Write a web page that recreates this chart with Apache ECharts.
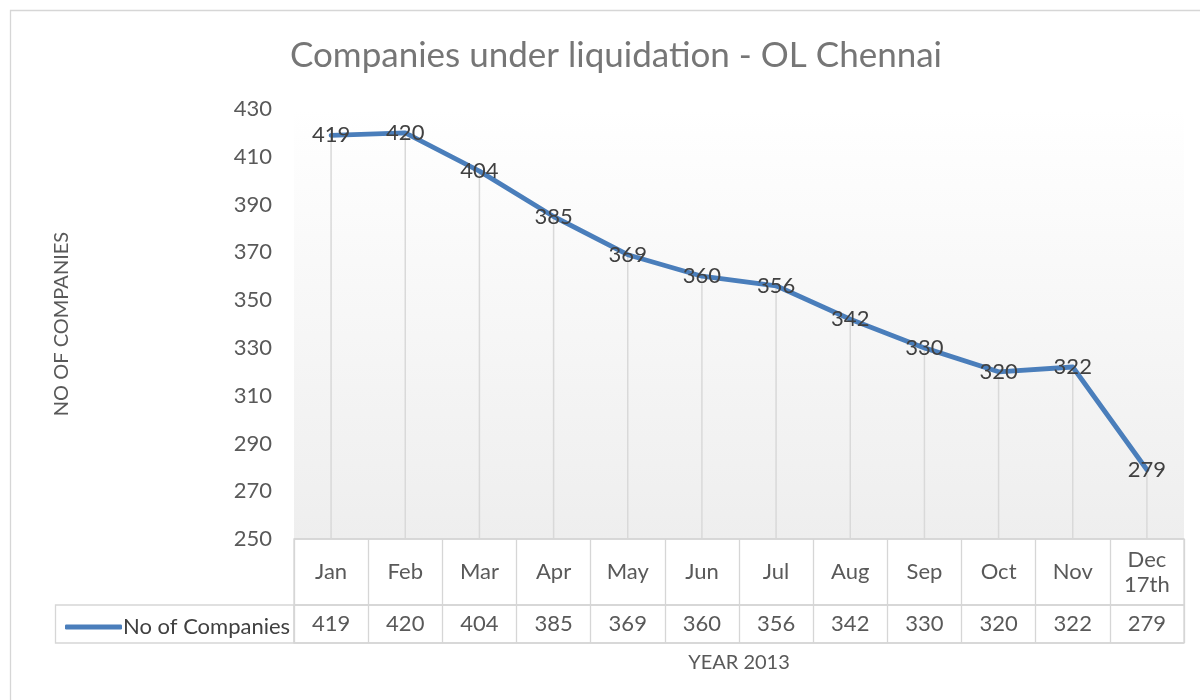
<!DOCTYPE html>
<html>
<head>
<meta charset="utf-8">
<script src="https://cdn.jsdelivr.net/npm/echarts@6/dist/echarts.min.js"></script>
<style>html,body{margin:0;padding:0;background:#fff}#c{width:1200px;height:700px}</style>
</head>
<body>
<div id="c"></div>
<script>
var categories = ['Jan','Feb','Mar','Apr','May','Jun','Jul','Aug','Sep','Oct','Nov','Dec\n17th'];
var companies = [419,420,404,385,369,360,356,342,330,320,322,279];
var seriesName = 'No of Companies';
var yTicks = {min:250, max:430, interval:20};

var FONT = 'Lato';
var BORDER = '#d6d6d6';
var chart = echarts.init(document.getElementById('c'));
var L = 294, W = 890, T0 = 109, B0 = 539, R1 = 605, R2 = 643;
chart.setOption({
  animation:false,
  textStyle:{fontFamily:FONT},
  title:{text:'Companies under liquidation - OL Chennai', left:611, textAlign:'center', top:33,
    textStyle:{fontFamily:FONT, fontSize:35, fontWeight:'normal', color:'#767676'}},
  legend:{data:[seriesName], left:60, top:611, icon:'roundRect', itemWidth:57, itemHeight:5, itemGap:0,
    textStyle:{fontFamily:FONT, fontSize:22, color:'#404040', padding:[0,0,0,-4]}},
  graphic:[
    {type:'rect', shape:{x:10.5,y:10.5,width:1200,height:700}, style:{fill:'none', stroke:BORDER, lineWidth:1.3}, silent:true, z:10},
    {type:'rect', shape:{x:55.5,y:R1,width:L-55.5,height:R2-R1}, style:{fill:'none', stroke:BORDER, lineWidth:1.3}, silent:true, z:10},
    {type:'line', shape:{x1:L,y1:B0,x2:L+W,y2:B0}, style:{stroke:BORDER, lineWidth:1.3}, silent:true, z:10},
    {type:'line', shape:{x1:L,y1:R1,x2:L+W,y2:R1}, style:{stroke:BORDER, lineWidth:1.3}, silent:true, z:10},
    {type:'line', shape:{x1:L,y1:R2,x2:L+W,y2:R2}, style:{stroke:BORDER, lineWidth:1.3}, silent:true, z:10}
  ],
  grid:[
    {left:L, width:W, top:T0, height:B0-T0, show:true, borderWidth:0, outerBoundsMode:'none',
      backgroundColor:new echarts.graphic.LinearGradient(0,0,0,1,[{offset:0,color:'#ffffff'},{offset:1,color:'#eeeeee'}])},
    {left:L, width:W, top:B0, height:R1-B0, show:true, borderColor:BORDER, borderWidth:1.3, backgroundColor:'transparent', outerBoundsMode:'none'},
    {left:L, width:W, top:R1, height:R2-R1, show:true, borderColor:BORDER, borderWidth:1.3, backgroundColor:'transparent', outerBoundsMode:'none'}
  ],
  xAxis:[
    {type:'category', gridIndex:0, data:categories, boundaryGap:true,
      axisLine:{show:false}, axisTick:{show:false}, splitLine:{show:false},
      axisLabel:{margin:33, verticalAlign:'middle', lineHeight:25, fontSize:22, color:'#595959', fontFamily:FONT, interval:0}},
    {type:'category', gridIndex:0, position:'bottom', offset:0, data:companies.map(String), boundaryGap:true,
      axisLine:{show:false}, axisTick:{show:false}, splitLine:{show:false},
      axisLabel:{margin:85, verticalAlign:'middle', fontSize:22, color:'#595959', fontFamily:FONT, interval:0},
      name:'YEAR 2013', nameLocation:'middle', nameGap:124,
      nameTextStyle:{fontSize:20, color:'#595959', fontFamily:FONT, verticalAlign:'middle'}},
    {type:'category', gridIndex:1, data:categories, boundaryGap:true,
      axisLine:{show:false}, axisTick:{show:false}, axisLabel:{show:false},
      splitLine:{show:true, interval:0, lineStyle:{color:BORDER, width:1.3}}},
    {type:'category', gridIndex:2, data:categories, boundaryGap:true,
      axisLine:{show:false}, axisTick:{show:false}, axisLabel:{show:false},
      splitLine:{show:true, interval:0, lineStyle:{color:BORDER, width:1.3}}}
  ],
  yAxis:[
    {type:'value', gridIndex:0, min:yTicks.min, max:yTicks.max, interval:yTicks.interval,
      axisLine:{show:false}, axisTick:{show:false}, splitLine:{show:false},
      axisLabel:{margin:22, fontSize:22, color:'#595959', fontFamily:FONT},
      name:'NO OF COMPANIES', nameLocation:'middle', nameGap:222, nameRotate:90,
      nameTextStyle:{fontSize:20, color:'#595959', fontFamily:FONT}},
    {type:'value', gridIndex:1, show:false},
    {type:'value', gridIndex:2, show:false}
  ],
  series:[
    {type:'bar', name:'drop', xAxisIndex:0, yAxisIndex:0, data:companies, barWidth:1.5,
      itemStyle:{color:'#d9d9d9'}, silent:true, clip:true, z:1},
    {type:'line', name:seriesName, xAxisIndex:0, yAxisIndex:0, data:companies,
      showSymbol:true, symbol:'circle', symbolSize:1, z:3,
      lineStyle:{color:'#4a7ebb', width:4.8, cap:'round', join:'round'},
      itemStyle:{color:'#4a7ebb'},
      label:{show:true, position:'inside', fontSize:22, color:'#404040', fontFamily:FONT}}
  ]
});
</script>
</body>
</html>
